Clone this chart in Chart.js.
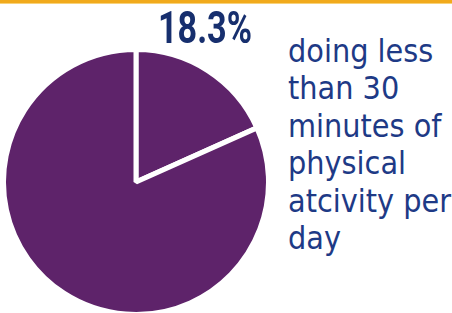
<!DOCTYPE html>
<html>
<head>
<meta charset="utf-8">
<script src="https://cdn.jsdelivr.net/npm/chart.js@4"></script>
<style>
  html, body { margin: 0; padding: 0; background: #ffffff; width: 452px; height: 313px; overflow: hidden; position: relative; }
  #bar { position: absolute; left: 0; top: 0; width: 452px; height: 3px; background: #f1aa1c; border-bottom: 1px solid #f8d27a; }
  #pieWrap { position: absolute; left: 1px; top: 47px; width: 270px; height: 270px; }
  #pct { position: absolute; left: 158px; top: 5px; font-family: Roboto, "Liberation Sans", sans-serif; font-weight: bold; font-size: 45px; line-height: 45px; color: #172f6e; white-space: nowrap; transform-origin: 0 0; }
  #desc { position: absolute; left: 288px; top: 33px; font-family: "DejaVu Sans Condensed", "DejaVu Sans", sans-serif; font-size: 32px; line-height: 37.4px; color: #1e3a86; white-space: nowrap; }
</style>
</head>
<body>
<div id="bar"></div>
<div id="pieWrap"><canvas id="c" width="270" height="270"></canvas></div>
<div id="pct"></div>
<div id="desc"></div>
<script>
// ---- data ----
const categories = ["Less than 30 minutes of physical activity per day", "Other"];
const values = [18.3, 81.7];
const valueLabel = "18.3%";
const descriptionLines = ["doing less", "than 30", "minutes of", "physical", "atcivity per", "day"];

// ---- text ----
const pct = document.getElementById('pct');
pct.textContent = valueLabel;
const w = pct.getBoundingClientRect().width;
pct.style.transform = 'scaleX(' + (94 / w) + ')';
document.getElementById('desc').innerHTML = descriptionLines.join('<br>');

// ---- chart ----
new Chart(document.getElementById('c'), {
  type: 'pie',
  data: {
    labels: categories,
    datasets: [{
      data: values,
      backgroundColor: ['#5e236a', '#5e236a'],
      borderColor: '#ffffff',
      borderWidth: 5
    }]
  },
  options: {
    responsive: false,
    animation: false,
    layout: { padding: 0 },
    plugins: { legend: { display: false }, tooltip: { enabled: false }, title: { display: false } }
  }
});
</script>
</body>
</html>
